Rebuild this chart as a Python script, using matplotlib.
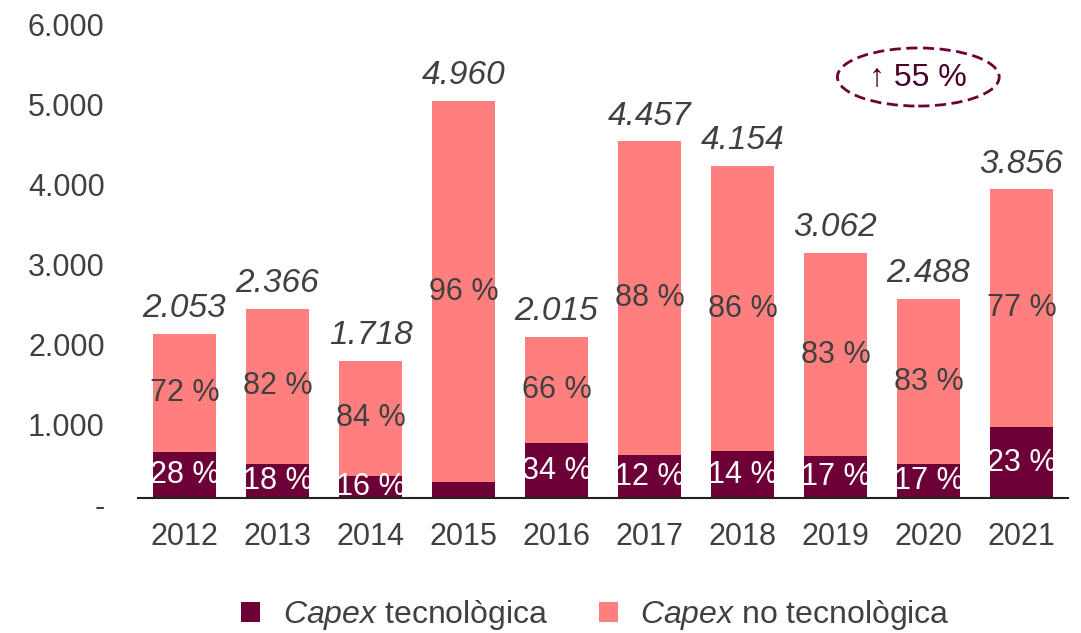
import matplotlib.pyplot as plt
import matplotlib.transforms as mtransforms
from matplotlib.patches import Ellipse
from matplotlib.ticker import FuncFormatter

plt.rcParams['font.family'] = ['Liberation Sans', 'DejaVu Sans']
plt.rcParams['mathtext.fontset'] = 'custom'
plt.rcParams['mathtext.rm'] = 'Liberation Sans'
plt.rcParams['mathtext.it'] = 'Liberation Sans:italic'

# Data
years = ['2012', '2013', '2014', '2015', '2016', '2017', '2018', '2019', '2020', '2021']
totals = [2053, 2366, 1718, 4960, 2015, 4457, 4154, 3062, 2488, 3856]
tech_pct = [28, 18, 16, 4, 34, 12, 14, 17, 17, 23]
nontech_pct = [72, 82, 84, 96, 66, 88, 86, 83, 83, 77]

tech = [t * p / 100 for t, p in zip(totals, tech_pct)]
nontech = [t - v for t, v in zip(totals, tech)]

maroon = '#6E0038'
pink = '#FF7F7F'
gray = '#404040'

fig = plt.figure(figsize=(10.81, 6.33), dpi=100)
ax = fig.add_axes([0.1277, 0.2133, 0.8603, 0.7583])

x = range(len(years))
b1 = ax.bar(x, tech, width=0.67, color=maroon, label=r'$\mathit{Capex}$ tecnològica')
b2 = ax.bar(x, nontech, width=0.67, bottom=tech, color=pink,
            label=r'$\mathit{Capex}$ no tecnològica')

# labels inside bars
for i in x:
    if tech_pct[i] >= 10:
        ax.text(i, tech[i] / 2, f'{tech_pct[i]} %', ha='center', va='center',
                color='white', fontsize=22)
    ax.text(i, tech[i] + nontech[i] / 2, f'{nontech_pct[i]} %', ha='center',
            va='center', color=gray, fontsize=22)
    ax.annotate(f'{totals[i]:,}'.replace(',', '.'), (i, totals[i]),
                xytext=(0, 7), textcoords='offset points', ha='center',
                va='bottom', color=gray, fontsize=24, style='italic')

ax.set_xlim(-0.5, len(years) - 0.5)
ax.set_ylim(0, 6000)
ax.set_xticks(list(x))
ax.set_xticklabels(years)
ax.set_yticks(range(0, 6001, 1000))
ax.yaxis.set_major_formatter(FuncFormatter(
    lambda v, p: '-' if v == 0 else f'{int(v):,}'.replace(',', '.')))
ax.tick_params(axis='both', length=0, labelsize=22, labelcolor=gray)
ax.tick_params(axis='y', pad=24)
ax.tick_params(axis='x', pad=17)

# y labels sit a little below their ticks in the original
shift = mtransforms.ScaledTranslation(0, -5 / 72, fig.dpi_scale_trans)
for lbl in ax.get_yticklabels():
    lbl.set_transform(lbl.get_transform() + shift)

for s in ['top', 'right', 'left']:
    ax.spines[s].set_visible(False)
ax.spines['bottom'].set_linewidth(1.5)
ax.spines['bottom'].set_color('#222222')

# growth annotation
ax.add_patch(Ellipse((0.839, 0.877), 0.174, 0.121, transform=ax.transAxes,
                     fill=False, ec=maroon, lw=2, ls=(0, (4, 2)), clip_on=False))
ax.text(0.839, 0.877, '↑ 55 %', transform=ax.transAxes, ha='center',
        va='center', color='#4A0028', fontsize=23)

fig.legend(handles=[b1, b2], loc='center', bbox_to_anchor=(0.551, 0.028),
           ncol=2, frameon=False, fontsize=23, handlelength=0.6,
           handleheight=0.6, handletextpad=0.7, columnspacing=1.6,
           labelcolor=gray)

plt.savefig('out.png', dpi=100)
